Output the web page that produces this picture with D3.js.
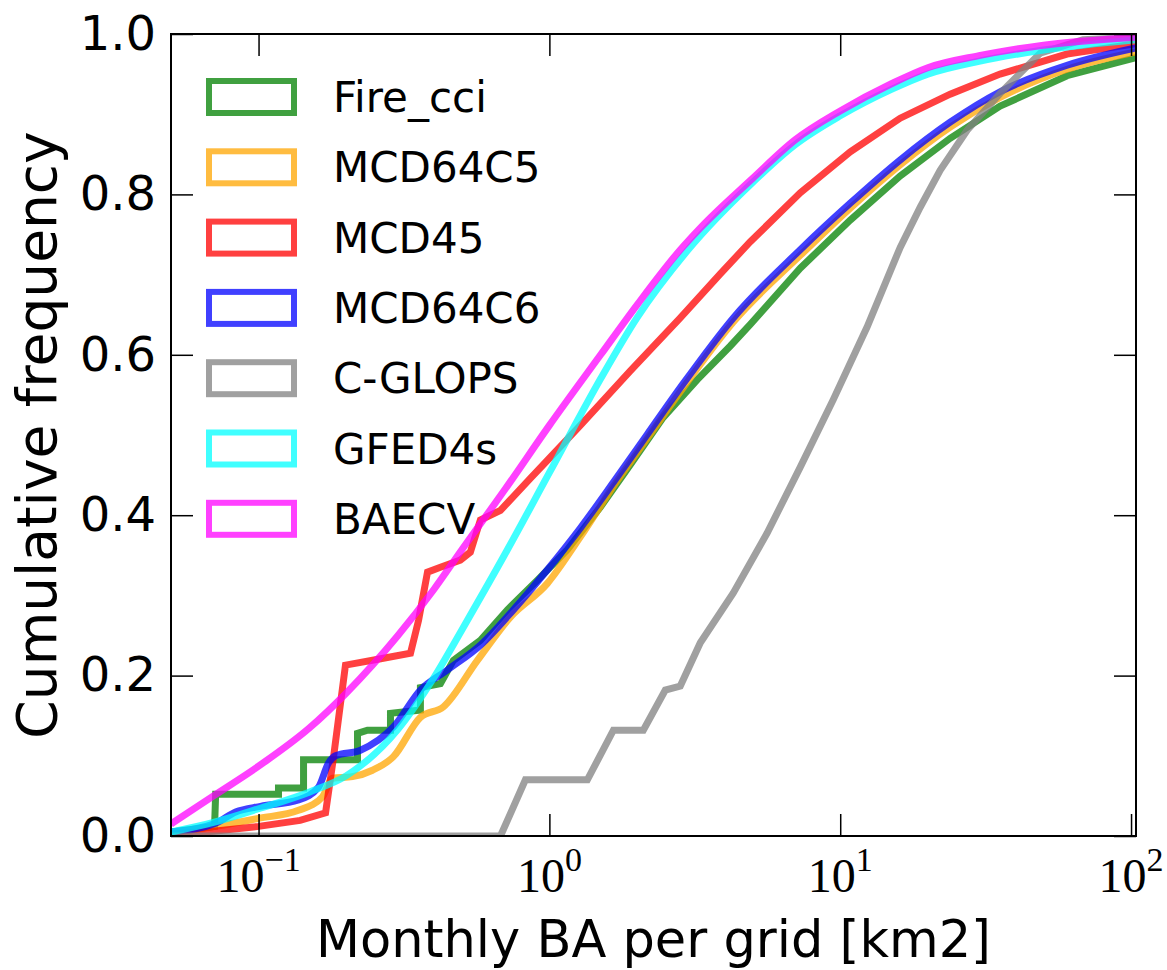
<!DOCTYPE html>
<meta charset="utf-8">
<style>
body { margin: 0; background: #fff; }
.y.axis text { font: 48px "DejaVu Sans", sans-serif; fill: #000; }
.axis .tick line { stroke: #000; stroke-width: 1.5px; }
.axis .domain { display: none; }
.xlab { font: 48px "Liberation Serif", serif; fill: #000; }
.title { font: 51px "DejaVu Sans", sans-serif; fill: #000; }
.legend text { font: 42px "DejaVu Sans", sans-serif; fill: #000; }
.curve { fill: none; stroke-width: 7px; stroke-opacity: 0.75; stroke-linejoin: miter; }
</style>
<body>
<script src="https://d3js.org/d3.v7.min.js"></script>
<script>

// series names and colours (drawn in this order)
var names = ["Fire_cci", "MCD64C5", "MCD45", "MCD64C6", "C-GLOPS", "GFED4s", "BAECV"];
var colors = ["green", "orange", "red", "blue", "gray", "cyan", "magenta"];
// which series are drawn as smooth curves (the others keep their steps)
var smooth = [false, true, false, true, false, true, true];

// cumulative frequency curves, [BA km2, cumulative frequency]
var fireCci = [[0.05,0.005],[0.0706,0.012],[0.0712,0.052],[0.1171,0.052],[0.1171,0.060],[0.1428,0.060],
  [0.1428,0.095],[0.2189,0.095],[0.2189,0.128],[0.2369,0.132],[0.2842,0.132],[0.2842,0.153],[0.3602,0.157],
  [0.3602,0.185],[0.4221,0.190],[0.4678,0.219],[0.5793,0.244],[0.7172,0.282],[0.9095,0.319],[1.153,0.357],
  [1.497,0.410],[1.898,0.463],[2.465,0.522],[3.226,0.569],[4.188,0.611],[4.907,0.638],[7.288,0.708],
  [10.83,0.768],[16.08,0.823],[23.88,0.870],[35.46,0.910],[60.27,0.948],[105,0.971]];

var mcd64c5 = [[0.05,0.004],[0.0712,0.012],[0.1,0.022],[0.1372,0.032],[0.166,0.049],[0.1796,0.072],
  [0.2104,0.074],[0.2465,0.082],[0.291,0.099],[0.3602,0.148],[0.4322,0.161],[0.5657,0.219],[0.7345,0.273],
  [0.9843,0.315],[1.278,0.373],[1.660,0.436],[2.172,0.496],[2.819,0.554],[4.290,0.641],[7.288,0.724],
  [10.83,0.783],[16.08,0.837],[23.88,0.884],[35.46,0.921],[60.27,0.956],[105,0.978]];

var mcd45 = [[0.05,0.0025],[0.07,0.006],[0.1,0.012],[0.139,0.0195],[0.17,0.029],[0.181,0.098],[0.199,0.213],
  [0.263,0.221],[0.333,0.228],[0.355,0.269],[0.381,0.329],[0.422,0.335],[0.494,0.344],[0.535,0.354],
  [0.579,0.394],[0.679,0.406],[0.86,0.446],[1,0.471],[1.278,0.512],[1.898,0.580],[2.819,0.646],
  [3.869,0.701],[4.907,0.741],[7.288,0.802],[10.83,0.853],[16.08,0.895],[23.88,0.925],[35.46,0.950],
  [60.27,0.975],[105,0.988]];

var mcd64c6 = [[0.05,0.005],[0.0712,0.016],[0.0834,0.030],[0.1016,0.037],[0.1372,0.045],[0.1608,0.061],
  [0.174,0.091],[0.1839,0.100],[0.2241,0.107],[0.291,0.136],[0.3602,0.182],[0.4462,0.207],[0.5793,0.238],
  [0.7521,0.282],[0.9843,0.332],[1.278,0.384],[1.660,0.441],[2.172,0.501],[2.819,0.559],[4.290,0.646],
  [7.288,0.731],[10.83,0.789],[16.08,0.843],[23.88,0.890],[35.46,0.928],[60.27,0.961],[105,0.983]];

var cGlops = [[0.05,0],[0.679,0],[0.827,0.070],[1.351,0.070],[1.660,0.132],[2.104,0.132],[2.504,0.182],
  [2.819,0.187],[3.303,0.241],[4.290,0.303],[5.613,0.378],[7.288,0.460],[9.461,0.544],[12.38,0.635],
  [16.08,0.734],[18.84,0.784],[22.06,0.830],[27.32,0.880],[35.46,0.926],[48.68,0.976],[68.41,0.993],
  [105,0.996]];

var gfed4s = [[0.05,0.005],[0.07,0.017],[0.1,0.034],[0.15,0.055],[0.2,0.075],[0.3,0.132],[0.4,0.197],
  [0.5,0.257],[0.7,0.350],[1,0.453],[1.5,0.570],[2,0.646],[3,0.731],[5,0.815],[7,0.862],[10,0.898],
  [15,0.931],[20,0.950],[30,0.966],[50,0.980],[105,0.993]];

var baecv = [[0.05,0.015],[0.07,0.050],[0.1,0.087],[0.15,0.135],[0.2,0.178],[0.3,0.249],[0.4,0.307],
  [0.5,0.357],[0.7,0.431],[1,0.512],[1.5,0.600],[2,0.662],[2.82,0.731],[3.3,0.758],[5,0.820],[7,0.868],
  [10,0.904],[15,0.938],[20,0.958],[30,0.973],[50,0.986],[105,0.996]];

var series = [fireCci, mcd64c5, mcd45, mcd64c6, cGlops, gfed4s, baecv];

// axis ticks
var xTicks = [0.1, 1, 10, 100];
var xExponents = ["\u22121", "0", "1", "2"];
var yTicks = [0, 0.2, 0.4, 0.6, 0.8, 1.0];

var margin = {top: 34, right: 31, bottom: 134, left: 171},
    width = 1167 - margin.left - margin.right,
    height = 970 - margin.top - margin.bottom;

var x = d3.scaleLog().domain([0.05, 104]).range([0, width]);
var y = d3.scaleLinear().domain([0, 1]).range([height, 0]);

var svg = d3.select("body").append("svg")
    .attr("width", 1167)
    .attr("height", 970);

var g = svg.append("g")
    .attr("transform", "translate(" + margin.left + "," + margin.top + ")");

g.append("clipPath").attr("id", "clip")
  .append("rect").attr("width", width).attr("height", height);

// curves
var stepLine = d3.line()
    .x(d => x(d[0]))
    .y(d => y(d[1]));
var smoothLine = d3.line()
    .curve(d3.curveMonotoneX)
    .x(d => x(d[0]))
    .y(d => y(d[1]));

g.append("g").attr("clip-path", "url(#clip)")
  .selectAll("path")
  .data(series)
  .enter().append("path")
    .attr("class", "curve")
    .attr("stroke", (d, i) => colors[i])
    .attr("d", (d, i) => smooth[i] ? smoothLine(d) : stepLine(d));

// ticks on all four sides, pointing inward
g.append("g").attr("class", "x axis")
    .attr("transform", "translate(0," + height + ")")
    .call(d3.axisBottom(x).tickValues(xTicks).tickSize(-22).tickFormat(""));
g.append("g").attr("class", "x axis")
    .call(d3.axisTop(x).tickValues(xTicks).tickSize(-22).tickFormat(""));
g.append("g").attr("class", "y axis")
    .call(d3.axisLeft(y).tickValues(yTicks).tickSize(-22).tickPadding(15).tickFormat(d3.format(".1f")));
g.append("g").attr("class", "y axis")
    .attr("transform", "translate(" + width + ",0)")
    .call(d3.axisRight(y).tickValues(yTicks).tickSize(-22).tickFormat(""));

// x tick labels as 10^n
var xl = g.append("g").selectAll("text")
    .data(xTicks)
    .enter().append("text")
    .attr("class", "xlab")
    .attr("x", d => x(d))
    .attr("y", height + 56)
    .attr("text-anchor", "middle");
xl.append("tspan").text("10");
xl.append("tspan")
    .attr("dy", -21)
    .attr("font-size", "34px")
    .text((d, i) => xExponents[i]);

// frame
g.append("rect")
    .attr("width", width)
    .attr("height", height)
    .attr("fill", "none")
    .attr("stroke", "#000")
    .attr("stroke-width", 2);

// axis titles
svg.append("text")
    .attr("class", "title")
    .attr("x", margin.left + width / 2)
    .attr("y", 957)
    .attr("text-anchor", "middle")
    .text("Monthly BA per grid [km2]");

svg.append("text")
    .attr("class", "title")
    .attr("transform", "translate(56," + (margin.top + height / 2) + ") rotate(-90)")
    .attr("text-anchor", "middle")
    .style("font-size", "55px")
    .text("Cumulative frequency");

// legend
var legend = g.append("g").attr("class", "legend");
var item = legend.selectAll("g")
    .data(names)
    .enter().append("g")
    .attr("transform", (d, i) => "translate(0," + (63 + i * 70.3) + ")");

item.append("rect")
    .attr("x", 38)
    .attr("y", -16)
    .attr("width", 85)
    .attr("height", 32)
    .attr("fill", "none")
    .attr("stroke", (d, i) => colors[i])
    .attr("stroke-opacity", 0.75)
    .attr("stroke-width", 6);

item.append("text")
    .attr("x", 162)
    .attr("dy", "0.36em")
    .text(d => d);

</script>
</body>
